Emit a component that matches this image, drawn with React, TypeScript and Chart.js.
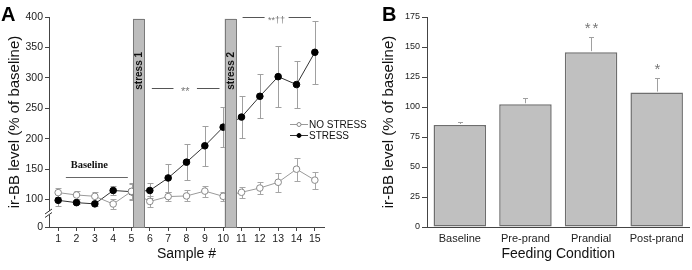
import React, { useEffect, useRef } from 'react';
import { Chart, registerables } from 'chart.js';

Chart.register(...registerables);

const FONT = "Arial, 'Liberation Sans', Helvetica, sans-serif";
const SERIF = "'Times New Roman', 'Liberation Serif', serif";

// ---- Panel A data ----
const SAMPLES = [1, 2, 3, 4, 5, 6, 7, 8, 9, 10, 11, 12, 13, 14, 15];
const NO_STRESS = [111.5, 107.6, 105.4, 92.8, 113.5, 97, 105, 106, 114, 105.4, 112, 119, 128.5, 150, 132];
const NO_STRESS_SEM = [7, 6, 7, 8, 12, 9, 8, 9, 9, 7, 9, 9.5, 15.5, 19, 14];
const STRESS = [98.8, 95, 93, 115, 113, 115, 135.6, 161.5, 188.4, 219, 235.6, 269.7, 302, 289, 342];
const STRESS_SEM = [10, 3, 3, 7, 14, 13, 23, 30, 33, 33, 34, 36, 50, 38, 52];
const Y_TICKS_A = [100, 150, 200, 250, 300, 350, 400];
const BREAK_VALUE = 55; // position labelled "0" below the axis break
const STRESS_PERIODS = [
  { from: 5.08, to: 5.7, label: 'stress 1' },
  { from: 10.08, to: 10.7, label: 'stress 2' },
];
const STRESS_BAR_TOP = 397;

// ---- Panel B data ----
const CONDITIONS = ['Baseline', 'Pre-prand', 'Prandial', 'Post-prand'];
const FEEDING = [85, 102.3, 145.7, 112];
const FEEDING_SEM = [2.5, 5.5, 12.3, 12.5];
const FEEDING_SIG = ['', '', '**', '*'];

const AXIS = '#444';
const TICK_TEXT = '#222';

function crisp(v: number) {
  return Math.round(v) + 0.5;
}

function makeConfigA(): any {
  const errorBars = {
    id: 'errA',
    beforeDatasetsDraw(chart: any) {
      const { ctx, scales } = chart;
      const x = scales.x, y = scales.y;
      const sets = [
        { vals: NO_STRESS, err: NO_STRESS_SEM, color: '#a6a6a6' },
        { vals: STRESS, err: STRESS_SEM, color: '#a0a0a0' },
      ];
      ctx.save();
      ctx.lineWidth = 1;
      sets.forEach((s) => {
        ctx.strokeStyle = s.color;
        SAMPLES.forEach((smp, i) => {
          const px = crisp(x.getPixelForValue(smp));
          const top = crisp(y.getPixelForValue(s.vals[i] + s.err[i]));
          const bot = crisp(y.getPixelForValue(s.vals[i] - s.err[i]));
          ctx.beginPath();
          ctx.moveTo(px, top);
          ctx.lineTo(px, bot);
          ctx.moveTo(px - 3, top);
          ctx.lineTo(px + 3, top);
          ctx.moveTo(px - 3, bot);
          ctx.lineTo(px + 3, bot);
          ctx.stroke();
        });
      });
      ctx.restore();
    },
  };

  const annotations = {
    id: 'annA',
    afterDatasetsDraw(chart: any) {
      const { ctx, scales, chartArea } = chart;
      const x = scales.x, y = scales.y;
      ctx.save();
      // stress bars
      STRESS_PERIODS.forEach((p) => {
        const l = x.getPixelForValue(p.from);
        const r = x.getPixelForValue(p.to);
        const t = y.getPixelForValue(STRESS_BAR_TOP);
        const b = chartArea.bottom;
        ctx.fillStyle = '#bdbdbd';
        ctx.fillRect(l, t, r - l, b - t);
        ctx.strokeStyle = '#7a7a7a';
        ctx.lineWidth = 1;
        ctx.strokeRect(crisp(l), crisp(t), Math.round(r - l), Math.round(b - t));
        ctx.save();
        ctx.translate((l + r) / 2 + 0.5, t + 52);
        ctx.rotate(-Math.PI / 2);
        ctx.fillStyle = '#111';
        ctx.font = `bold 10px ${FONT}`;
        ctx.textAlign = 'center';
        ctx.textBaseline = 'middle';
        ctx.fillText(p.label, 0, 0);
        ctx.restore();
      });

      // bracket helper
      const bracket = (x1: number, x2: number, x3: number, x4: number, yv: number, text: string, font: string, color: string, textDy: number) => {
        const py = crisp(y.getPixelForValue(yv));
        ctx.strokeStyle = '#555';
        ctx.lineWidth = 1;
        ctx.beginPath();
        ctx.moveTo(x.getPixelForValue(x1), py);
        ctx.lineTo(x.getPixelForValue(x2), py);
        ctx.moveTo(x.getPixelForValue(x3), py);
        ctx.lineTo(x.getPixelForValue(x4), py);
        ctx.stroke();
        ctx.fillStyle = color;
        ctx.font = font;
        ctx.textAlign = 'center';
        ctx.textBaseline = 'middle';
        ctx.fillText(text, (x.getPixelForValue(x2) + x.getPixelForValue(x3)) / 2, py + textDy);
      };
      bracket(6.11, 7.29, 8.57, 9.8, 283, '**', `11px ${FONT}`, '#777', 3);
      bracket(11.06, 12.26, 13.57, 14.79, 400.5, '**††', `9px ${FONT}`, '#777', 3);

      // Baseline bracket
      const by = crisp(y.getPixelForValue(137));
      ctx.strokeStyle = '#666';
      ctx.beginPath();
      ctx.moveTo(x.getPixelForValue(1.42), by);
      ctx.lineTo(x.getPixelForValue(4.8), by);
      ctx.stroke();
      ctx.fillStyle = '#111';
      ctx.font = `bold 10.5px ${SERIF}`;
      ctx.textAlign = 'center';
      ctx.textBaseline = 'middle';
      ctx.fillText('Baseline', x.getPixelForValue(2.7), y.getPixelForValue(156));

      // legend
      const lx = chartArea.right - 34;
      const rows = [
        { label: 'NO STRESS', line: '#999', fill: '#fff', stroke: '#888', dy: 124.5 },
        { label: 'STRESS', line: '#333', fill: '#000', stroke: '#000', dy: 135.5 },
      ];
      rows.forEach((r) => {
        ctx.strokeStyle = r.line;
        ctx.lineWidth = 1;
        ctx.beginPath();
        ctx.moveTo(lx, r.dy);
        ctx.lineTo(lx + 18, r.dy);
        ctx.stroke();
        ctx.beginPath();
        ctx.arc(lx + 9, r.dy, 2, 0, Math.PI * 2);
        ctx.fillStyle = r.fill;
        ctx.fill();
        ctx.strokeStyle = r.stroke;
        ctx.stroke();
        ctx.fillStyle = '#111';
        ctx.font = `10px ${FONT}`;
        ctx.textAlign = 'left';
        ctx.textBaseline = 'middle';
        ctx.fillText(r.label, lx + 19, r.dy + 0.5);
      });
      ctx.restore();
    },
    afterDraw(chart: any) {
      const { ctx, chartArea } = chart;
      ctx.save();
      // axis break
      const ax = chartArea.left;
      ctx.fillStyle = '#fff';
      ctx.fillRect(ax - 2, 211, 4, 4);
      ctx.strokeStyle = '#333';
      ctx.lineWidth = 1;
      ctx.beginPath();
      ctx.moveTo(ax - 4, 214);
      ctx.lineTo(ax + 3, 209);
      ctx.moveTo(ax - 4, 217.5);
      ctx.lineTo(ax + 3, 212.5);
      ctx.stroke();
      // panel letter
      ctx.fillStyle = '#000';
      ctx.font = `bold 20px ${FONT}`;
      ctx.textAlign = 'left';
      ctx.textBaseline = 'alphabetic';
      ctx.fillText('A', 1, 21);
      ctx.restore();
    },
  };

  return {
    type: 'line',
    data: {
      datasets: [
        {
          label: 'NO STRESS',
          data: SAMPLES.map((s, i) => ({ x: s, y: NO_STRESS[i] })),
          borderColor: '#9a9a9a',
          borderWidth: 1,
          pointRadius: 3.3,
          pointBackgroundColor: '#fff',
          pointBorderColor: '#8a8a8a',
          pointBorderWidth: 1,
          tension: 0,
        },
        {
          label: 'STRESS',
          data: SAMPLES.map((s, i) => ({ x: s, y: STRESS[i] })),
          borderColor: '#333',
          borderWidth: 1,
          pointRadius: 3.3,
          pointBackgroundColor: '#000',
          pointBorderColor: '#000',
          pointBorderWidth: 1,
          tension: 0,
        },
      ],
    },
    options: {
      animation: false,
      responsive: false,
      maintainAspectRatio: false,
      layout: { padding: { top: 17, right: 56, left: 0, bottom: 0 } },
      plugins: { legend: { display: false }, tooltip: { enabled: false } },
      scales: {
        x: {
          type: 'linear',
          min: 0.5,
          max: 15.5,
          afterBuildTicks: (s: any) => {
            s.ticks = SAMPLES.map((v) => ({ value: v }));
          },
          afterFit: (s: any) => {
            s.height = 43;
          },
          ticks: {
            font: { family: FONT, size: 10.5 },
            color: TICK_TEXT,
            padding: 2,
            maxRotation: 0,
            autoSkip: false,
          },
          grid: { drawOnChartArea: false, drawTicks: true, tickLength: 4, color: AXIS },
          border: { color: AXIS, width: 1 },
          title: {
            display: true,
            text: 'Sample #',
            font: { family: FONT, size: 14 },
            color: '#111',
            padding: { top: 0, bottom: 7 },
          },
        },
        y: {
          type: 'linear',
          min: BREAK_VALUE,
          max: 400,
          afterBuildTicks: (s: any) => {
            s.ticks = [BREAK_VALUE, ...Y_TICKS_A].map((v) => ({ value: v }));
          },
          afterFit: (s: any) => {
            s.width = 49;
          },
          ticks: {
            callback: (v: any) => (v === BREAK_VALUE ? '0' : String(v)),
            font: { family: FONT, size: 10.5 },
            color: TICK_TEXT,
            padding: 2,
          },
          grid: { drawOnChartArea: false, drawTicks: true, tickLength: 4, color: AXIS },
          border: { color: AXIS, width: 1 },
          title: {
            display: true,
            text: 'ir-BB level (% of baseline)',
            font: { family: FONT, size: 15 },
            color: '#111',
            padding: { top: 6, bottom: 0 },
          },
        },
      },
    },
    plugins: [errorBars, annotations],
  };
}

function makeConfigB(): any {
  const overlay = {
    id: 'annB',
    afterDatasetsDraw(chart: any) {
      const { ctx, scales } = chart;
      const x = scales.x, y = scales.y;
      ctx.save();
      ctx.strokeStyle = '#a0a0a0';
      ctx.lineWidth = 1;
      CONDITIONS.forEach((c, i) => {
        const px = crisp(x.getPixelForValue(i));
        const base = y.getPixelForValue(FEEDING[i]);
        const top = crisp(y.getPixelForValue(FEEDING[i] + FEEDING_SEM[i]));
        ctx.beginPath();
        ctx.moveTo(px, base - 1);
        ctx.lineTo(px, top);
        ctx.moveTo(px - 2.5, top);
        ctx.lineTo(px + 2.5, top);
        ctx.stroke();
        if (FEEDING_SIG[i]) {
          ctx.fillStyle = '#777';
          ctx.font = `15px ${FONT}`;
          (ctx as any).letterSpacing = '2px';
          ctx.textAlign = 'center';
          ctx.textBaseline = 'middle';
          ctx.fillText(FEEDING_SIG[i], px + 1, top - 9);
          (ctx as any).letterSpacing = '0px';
        }
      });
      ctx.restore();
    },
    afterDraw(chart: any) {
      const { ctx } = chart;
      ctx.save();
      ctx.fillStyle = '#000';
      ctx.font = `bold 20px ${FONT}`;
      ctx.textAlign = 'left';
      ctx.textBaseline = 'alphabetic';
      ctx.fillText('B', 2, 21);
      ctx.restore();
    },
  };

  return {
    type: 'bar',
    data: {
      labels: CONDITIONS,
      datasets: [
        {
          data: FEEDING,
          backgroundColor: '#c0c0c0',
          borderColor: '#6e6e6e',
          borderWidth: 1.5,
          borderSkipped: false,
          barPercentage: 0.8,
          categoryPercentage: 1,
        },
      ],
    },
    options: {
      animation: false,
      responsive: false,
      maintainAspectRatio: false,
      layout: { padding: { top: 17, right: 2.5, left: 0, bottom: 0 } },
      plugins: { legend: { display: false }, tooltip: { enabled: false } },
      scales: {
        x: {
          afterFit: (s: any) => {
            s.height = 43;
          },
          ticks: { font: { family: FONT, size: 11 }, color: TICK_TEXT, padding: 5 },
          grid: { drawOnChartArea: false, drawTicks: false, color: AXIS },
          border: { color: AXIS, width: 1 },
          title: {
            display: true,
            text: 'Feeding Condition',
            font: { family: FONT, size: 14 },
            color: '#111',
            padding: { top: 0, bottom: 7 },
          },
        },
        y: {
          min: 0,
          max: 175,
          afterFit: (s: any) => {
            s.width = 47;
          },
          ticks: { stepSize: 25, font: { family: FONT, size: 9 }, color: TICK_TEXT, padding: 2 },
          grid: { drawOnChartArea: false, drawTicks: true, tickLength: 5, color: AXIS },
          border: { color: AXIS, width: 1 },
          title: {
            display: true,
            text: 'ir-BB level (% of baseline)',
            font: { family: FONT, size: 15 },
            color: '#111',
            padding: { top: 0, bottom: 0 },
          },
        },
      },
    },
    plugins: [overlay],
  };
}

export default function App() {
  const refA = useRef<HTMLCanvasElement>(null);
  const refB = useRef<HTMLCanvasElement>(null);
  useEffect(() => {
    const a = new Chart(refA.current as HTMLCanvasElement, makeConfigA());
    const b = new Chart(refB.current as HTMLCanvasElement, makeConfigB());
    return () => {
      a.destroy();
      b.destroy();
    };
  }, []);
  return (
    <div style={{ position: 'fixed', left: 0, top: 0, width: 692, height: 270, background: '#fff' }}>
      <canvas ref={refA} width={380} height={270} style={{ position: 'absolute', left: 0, top: 0, width: 380, height: 270 }} />
      <canvas ref={refB} width={312} height={270} style={{ position: 'absolute', left: 380, top: 0, width: 312, height: 270 }} />
    </div>
  );
}
